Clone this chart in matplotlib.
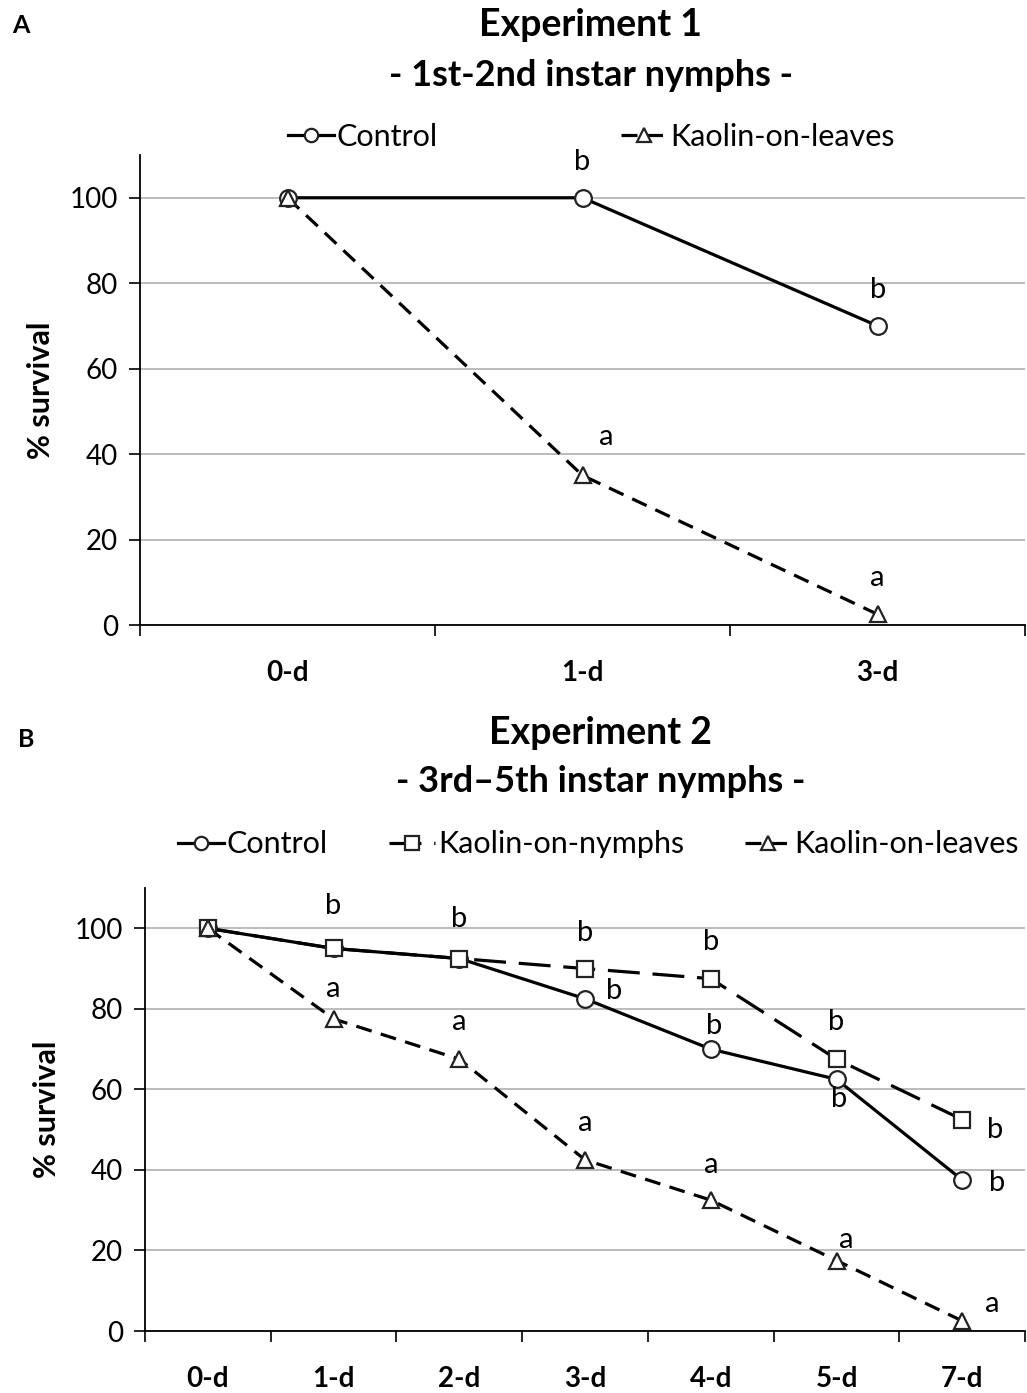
import matplotlib
matplotlib.use("Agg")
import matplotlib.pyplot as plt

plt.rcParams['font.family'] = ['Lato', 'DejaVu Sans']

# Experiment 1 data
days1 = ["0-d", "1-d", "3-d"]
control1 = [100, 100, 70]
leaves1 = [100, 35, 2.5]

# Experiment 2 data
days2 = ["0-d", "1-d", "2-d", "3-d", "4-d", "5-d", "7-d"]
control2 = [100, 95, 92.5, 82.5, 70, 62.5, 37.5]
nymphs2 = [100, 95, 92.5, 90, 87.5, 67.5, 52.5]
leaves2 = [100, 77.5, 67.5, 42.5, 32.5, 17.5, 2.5]

# significance letters: (letter, series, day index, dx px, dy px)
letters1 = [("b", "control", 1, 0, 36), ("b", "control", 2, 0, 36),
            ("a", "leaves", 1, 24, 38), ("a", "leaves", 2, 0, 36)]
letters2 = [("b", "nymphs", 1, 0, 42), ("b", "nymphs", 2, 0, 40),
            ("b", "nymphs", 3, 0, 36), ("b", "nymphs", 4, 0, 37),
            ("b", "nymphs", 5, 0, 37), ("b", "nymphs", 6, 33, -10),
            ("b", "control", 3, 29, 8), ("b", "control", 4, 3, 23),
            ("b", "control", 5, 3, -20), ("b", "control", 6, 35, -3),
            ("a", "leaves", 1, 0, 30), ("a", "leaves", 2, 0, 37),
            ("a", "leaves", 3, 0, 37), ("a", "leaves", 4, 0, 35),
            ("a", "leaves", 5, 10, 21), ("a", "leaves", 6, 30, 17)]

mk = dict(markersize=12, markerfacecolor="white", markeredgecolor="#222222",
          markeredgewidth=1.6)
LW = 2.3


def style_axes(ax, labels):
    ax.set_xlim(-0.5, len(labels) - 0.5)
    ax.set_ylim(0, 110)
    ax.set_yticks([0, 20, 40, 60, 80, 100])
    ax.set_xticks(range(len(labels)))
    ax.set_xticklabels(labels, fontsize=20, fontweight="bold")
    ax.set_xticks([i - 0.5 for i in range(len(labels) + 1)], minor=True)
    ax.tick_params(axis="x", which="major", length=0, pad=25)
    ax.tick_params(axis="x", which="minor", length=8, width=1.2, direction="out")
    ax.tick_params(axis="y", labelsize=20, length=8, width=1.2, direction="out", pad=8)
    for s in ["top", "right"]:
        ax.spines[s].set_visible(False)
    for s in ["left", "bottom"]:
        ax.spines[s].set_linewidth(1.3)
    ax.yaxis.grid(True, color="#b0b0b0", linewidth=1.2)
    ax.set_axisbelow(True)
    ax.set_ylabel("% survival", fontsize=22, fontweight="bold", labelpad=10)


def put_letters(ax, letters, series):
    for txt, name, i, dx, dy in letters:
        ax.annotate(txt, (i, series[name][i]), xytext=(dx, dy),
                    textcoords="offset pixels", ha="center", va="center",
                    fontsize=21)


fig = plt.figure(figsize=(10.27, 13.93), dpi=100)

# Panel A
ax1 = fig.add_axes([0.1363, 0.5513, 0.862, 0.3374])
x1 = range(len(days1))
ax1.plot(x1, control1, color="black", lw=LW, marker="o", label="Control", **mk)
ax1.plot(x1, leaves1, color="black", lw=LW, ls=(0, (5, 3)), marker="^",
         label="Kaolin-on-leaves", **mk)
style_axes(ax1, days1)
put_letters(ax1, letters1, {"control": control1, "leaves": leaves1})
ax1.legend(loc="lower center", bbox_to_anchor=(0.51, 0.95), ncol=2, frameon=False,
           fontsize=22, handlelength=1.5, handletextpad=0.1, columnspacing=6.0,
           markerscale=0.8)

# Panel B
ax2 = fig.add_axes([0.1412, 0.0445, 0.857, 0.318])
x2 = range(len(days2))
ax2.plot(x2, control2, color="black", lw=LW, marker="o", label="Control", **mk)
ax2.plot(x2, nymphs2, color="black", lw=LW, ls=(0, (10, 4)), marker="s",
         label="Kaolin-on-nymphs", **mk)
ax2.plot(x2, leaves2, color="black", lw=LW, ls=(0, (5, 3)), marker="^",
         label="Kaolin-on-leaves", **mk)
style_axes(ax2, days2)
put_letters(ax2, letters2, {"control": control2, "nymphs": nymphs2, "leaves": leaves2})
ax2.legend(loc="lower center", bbox_to_anchor=(0.515, 1.005), ncol=3, frameon=False,
           fontsize=22, handlelength=1.5, handletextpad=0.1, columnspacing=2.0,
           markerscale=0.8)

# titles and panel labels
fig.text(0.575, 0.982, "Experiment 1", ha="center", va="center", fontsize=27, fontweight="bold")
fig.text(0.575, 0.946, "- 1st-2nd instar nymphs -", ha="center", va="center", fontsize=26, fontweight="bold")
fig.text(0.585, 0.474, "Experiment 2", ha="center", va="center", fontsize=27, fontweight="bold")
fig.text(0.585, 0.439, "- 3rd\u20135th instar nymphs -", ha="center", va="center", fontsize=26, fontweight="bold")
fig.text(0.012, 0.982, "A", ha="left", va="center", fontsize=18, fontweight="bold")
fig.text(0.018, 0.469, "B", ha="left", va="center", fontsize=18, fontweight="bold")

fig.savefig("out.png", dpi=100)
